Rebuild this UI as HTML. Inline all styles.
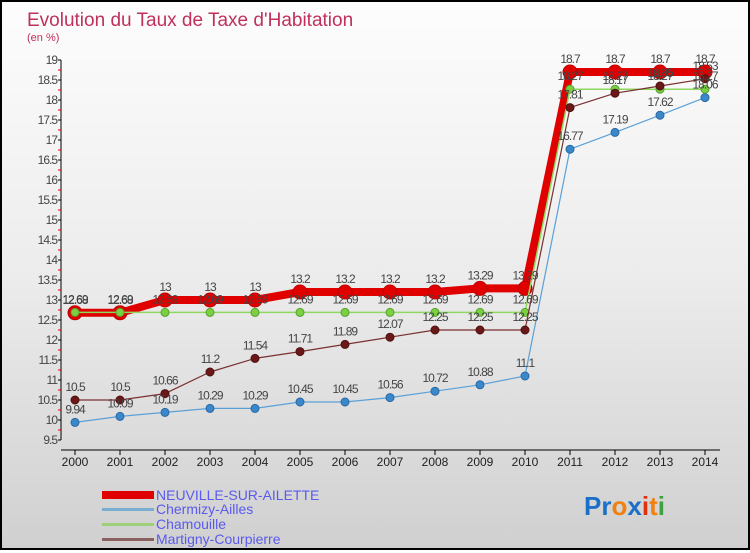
<!DOCTYPE html>
<html><head><meta charset="utf-8"><style>
html,body{margin:0;padding:0;}
body{width:750px;height:550px;overflow:hidden;font-family:"Liberation Sans",sans-serif;}
#wrap{position:relative;width:746px;height:546px;border:2px solid #000;background:linear-gradient(#fdfdfd 0%,#ececec 50%,#d0d0d0 100%);}
svg text{font-family:"Liberation Sans",sans-serif;}
</style></head><body>
<div id="wrap">
<svg id="chart" width="746" height="546">
<text x="25" y="24" font-size="19" fill="#c0305a">Evolution du Taux de Taxe d'Habitation</text>
<text x="25" y="39" font-size="11" fill="#c0305a">(en %)</text>
<g id="axes"></g><g id="series"></g><g id="labels"></g>
<g>
<rect x="100" y="489" width="52" height="8" fill="#e00000"/>
<text x="154" y="498" font-size="14" fill="#5a5aee">NEUVILLE-SUR-AILETTE</text>
<rect x="100" y="506" width="52" height="3" fill="#7aaed0"/>
<text x="154" y="512" font-size="14" fill="#5a5aee">Chermizy-Ailles</text>
<rect x="100" y="521" width="52" height="3" fill="#9ed07a"/>
<text x="154" y="527" font-size="14" fill="#5a5aee">Chamouille</text>
<rect x="100" y="536" width="52" height="3" fill="#8a6060"/>
<text x="154" y="542" font-size="14" fill="#5a5aee">Martigny-Courpierre</text>
</g>
<g>
<text x="582" y="513" font-size="26" font-weight="bold"><tspan fill="#1a70c8">Pr</tspan><tspan fill="#f08010">o</tspan><tspan fill="#1a70c8">x</tspan><tspan fill="#e03010">i</tspan><tspan fill="#f08010">t</tspan><tspan fill="#40a040">i</tspan></text>
</g>
</svg>
</div>
<script>
const years = [2000,2001,2002,2003,2004,2005,2006,2007,2008,2009,2010,2011,2012,2013,2014];
const neuville = [12.68,12.68,13,13,13,13.2,13.2,13.2,13.2,13.29,13.29,18.7,18.7,18.7,18.7];
const chermizy = [9.94,10.09,10.19,10.29,10.29,10.45,10.45,10.56,10.72,10.88,11.1,16.77,17.19,17.62,18.06];
const chamouille = [12.69,12.69,12.69,12.69,12.69,12.69,12.69,12.69,12.69,12.69,12.69,18.27,18.27,18.27,18.27];
const martigny = [10.5,10.5,10.66,11.2,11.54,11.71,11.89,12.07,12.25,12.25,12.25,17.81,18.17,18.35,18.53];
const yTicks = [9.5,10,10.5,11,11.5,12,12.5,13,13.5,14,14.5,15,15.5,16,16.5,17,17.5,18,18.5,19];

const NS='http://www.w3.org/2000/svg';
const OX=-2, OY=-2;
function xs(i){return 75+i*45+OX;}
function ys(v){return 60+(19-v)*40+OY;}
function mk(tag,attrs,parent){const e=document.createElementNS(NS,tag);for(const k in attrs)e.setAttribute(k,attrs[k]);parent.appendChild(e);return e;}
const axes=document.getElementById('axes'), ser=document.getElementById('series'), lab=document.getElementById('labels');

let yl=mk('line',{x1:61+OX,y1:ys(19),x2:61+OX,y2:ys(9.5),stroke:'#000','stroke-width':1},axes);


let xl=mk('line',{x1:61+OX,y1:450+OY,x2:720+OX,y2:450+OY,stroke:'#000','stroke-width':1},axes);


yTicks.forEach((t,i)=>{
  mk('line',{x1:58+OX,y1:ys(t),x2:61+OX,y2:ys(t),stroke:'#000'},axes);
  if(i<yTicks.length-1) mk('line',{x1:58+OX,y1:ys(t)-10,x2:61+OX,y2:ys(t)-10,stroke:'#e00000'},axes);
  const tx=mk('text',{x:57+OX,y:ys(t)+4,'font-size':12,'text-anchor':'end',fill:'#444','letter-spacing':'-1'},axes);
  tx.textContent=String(t);
  
  
});
years.forEach((y,i)=>{
  mk('line',{x1:xs(i),y1:450+OY,x2:xs(i),y2:455+OY,stroke:'#000'},axes);
  const tx=mk('text',{x:xs(i),y:466+OY,'font-size':12,'text-anchor':'middle',fill:'#222'},axes);
  tx.textContent=String(y);
  
  
});

function drawSeries(data,color,lw,r,dotFill,dotStroke,name){
  const pts=data.map((v,i)=>xs(i)+','+ys(v)).join(' ');
  const pl=mk('polyline',{points:pts,fill:'none',stroke:color,'stroke-width':lw,'stroke-linejoin':'round'},ser);
  
  
  data.forEach((v,i)=>{
    const c=mk('circle',{cx:xs(i),cy:ys(v),r:r,fill:dotFill,stroke:dotStroke,'stroke-width':1},ser);
    
    
    const t=mk('text',{x:xs(i),y:ys(v)-9,'font-size':12,'text-anchor':'middle',fill:'#444','letter-spacing':'-1'},lab);
    t.textContent=String(v);
    
    
  });
}
drawSeries(neuville,'#e00000',8,7,'#e00000','#c00000','neuville');
drawSeries(chermizy,'#5aa0d8',1.2,4,'#3a88cc','#2a68a0','chermizy');
drawSeries(chamouille,'#8ed860',1.5,4,'#7ad040','#58a030','chamouille');
drawSeries(martigny,'#7a3030',1.2,4,'#6a1818','#501010','martigny');
</script>
</body></html>
